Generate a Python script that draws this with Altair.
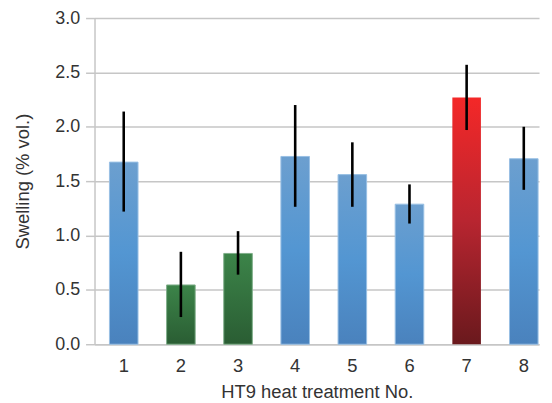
import altair as alt
import pandas as pd

# Data
treatments = ["1", "2", "3", "4", "5", "6", "7", "8"]
swelling = [1.675, 0.545, 0.835, 1.727, 1.56, 1.288, 2.27, 1.706]
err_low = [1.22, 0.25, 0.64, 1.264, 1.264, 1.11, 1.97, 1.42]
err_high = [2.14, 0.85, 1.04, 2.20, 1.857, 1.47, 2.57, 2.00]
groups = ["blue", "green", "green", "blue", "blue", "blue", "red", "blue"]
y_ticks = [0.0, 0.5, 1.0, 1.5, 2.0, 2.5, 3.0]

df = pd.DataFrame({
    "treatment": treatments,
    "swelling": swelling,
    "lo": err_low,
    "hi": err_high,
    "group": groups,
})

FONT = "Liberation Sans"
TEXT = "#333333"
GRID = "#c6c6c6"

x_enc = alt.X(
    "treatment:N",
    sort=treatments,
    scale=alt.Scale(paddingInner=0.5, paddingOuter=0.139, align=0.94),
    axis=alt.Axis(
        title="HT9 heat treatment No.",
        labelAngle=0,
        ticks=False,
        tickSize=0,
        labelPadding=12,
        titlePadding=8,
        domainColor=GRID,
        domainWidth=1.5,
        labelFont=FONT,
        labelFontSize=18.5,
        labelColor=TEXT,
        titleFont=FONT,
        titleFontSize=18.5,
        titleFontWeight="normal",
        titleColor=TEXT,
    ),
)

y_enc = alt.Y(
    "swelling:Q",
    scale=alt.Scale(domain=[0, 3], nice=False),
    axis=alt.Axis(
        title="Swelling (% vol.)",
        values=y_ticks,
        format=".1f",
        tickSize=9,
        tickColor=GRID,
        tickWidth=1.5,
        gridColor=GRID,
        gridWidth=1.5,
        domainColor=GRID,
        domainWidth=1.5,
        labelPadding=6,
        titlePadding=22,
        labelFont=FONT,
        labelFontSize=18,
        labelColor=TEXT,
        titleFont=FONT,
        titleFontSize=18.5,
        titleFontWeight="normal",
        titleColor=TEXT,
    ),
)


def grad(stops):
    return alt.Gradient(
        gradient="linear",
        stops=[alt.GradientStop(color=c, offset=o) for o, c in stops],
        x1=0, x2=0, y1=0, y2=1,
    )


blue = grad([(0, "#6c9fcf"), (0.5, "#5396d2"), (1, "#4a82bd")])
green = grad([(0, "#3c8449"), (1, "#2a5d33")])
red = grad([(0, "#f42828"), (0.5, "#b82530"), (1, "#6a191d")])

base = alt.Chart(df)

bars_blue = base.transform_filter(alt.datum.group == "blue").mark_bar(
    color=blue, stroke="#98c0e4", strokeWidth=1
).encode(x=x_enc, y=y_enc)
bars_green = base.transform_filter(alt.datum.group == "green").mark_bar(
    color=green, stroke="#7fae89", strokeWidth=1
).encode(x=x_enc, y=y_enc)
bars_red = base.transform_filter(alt.datum.group == "red").mark_bar(
    color=red
).encode(x=x_enc, y=y_enc)

errs = base.mark_rule(color="black", strokeWidth=2.6).encode(
    x=alt.X("treatment:N", sort=treatments),
    y="lo:Q",
    y2="hi:Q",
)

chart = (
    alt.layer(bars_blue, bars_green, bars_red, errs)
    .properties(
        width=447,
        height=328,
        autosize=alt.AutoSizeParams(type="none"),
        padding={"left": 87, "top": 9, "right": 5, "bottom": 58},
        background="white",
    )
    .configure_view(stroke=None)
)

chart.save("out.html", embed_options={"renderer": "svg", "actions": False})
